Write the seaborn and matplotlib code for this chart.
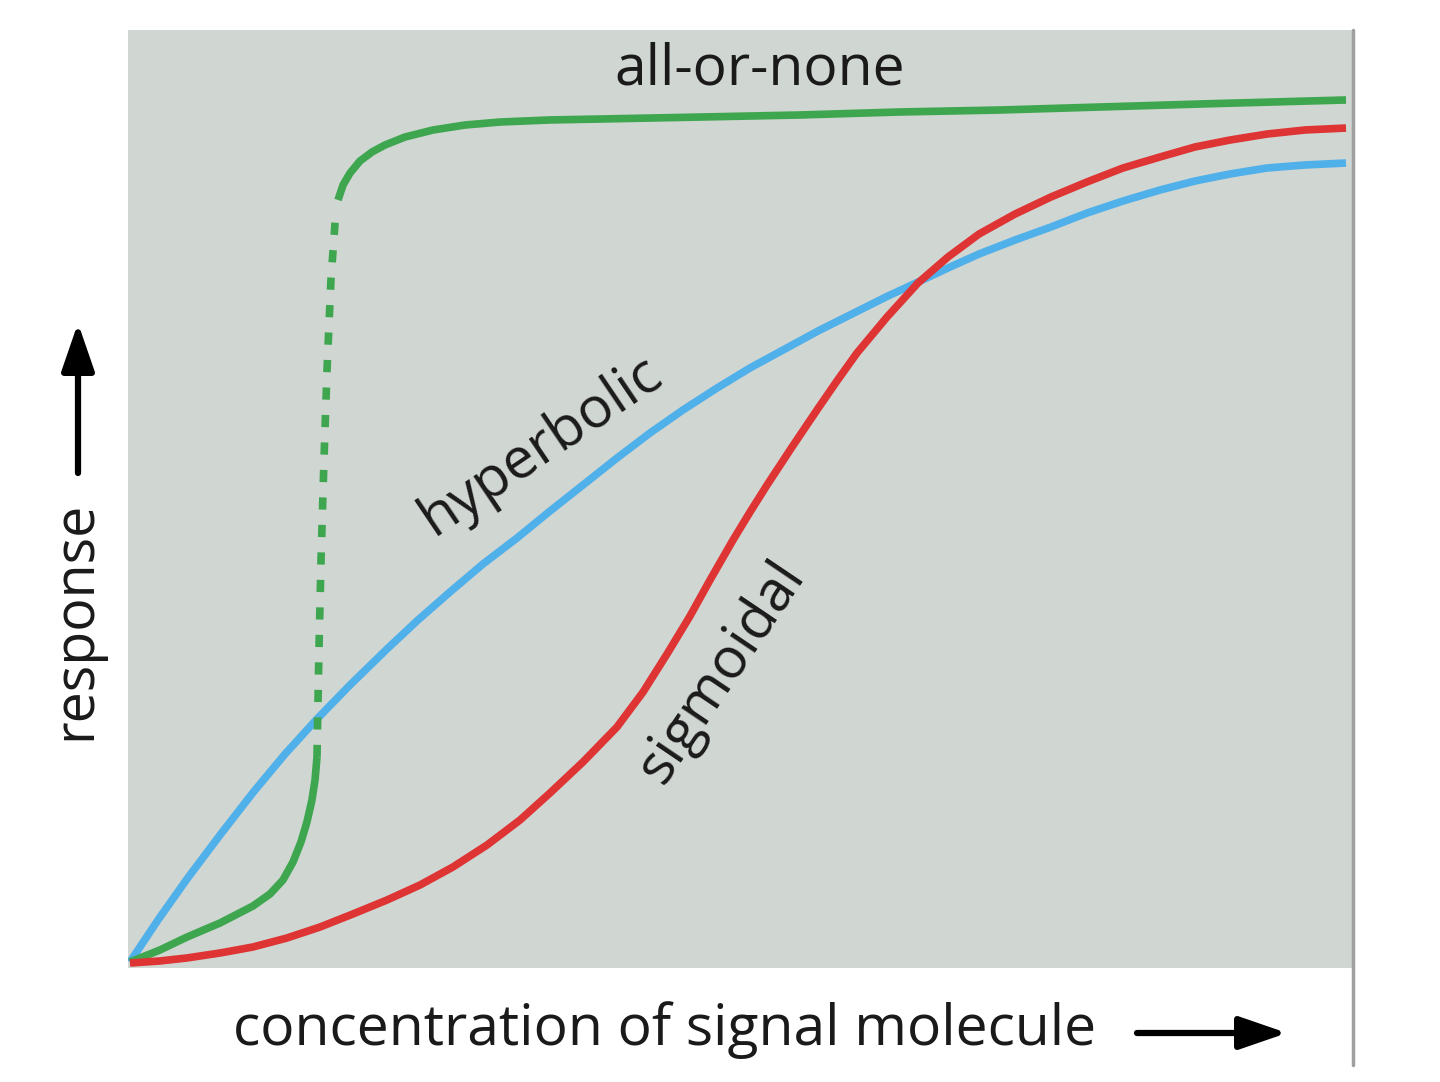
import matplotlib
matplotlib.use("Agg")
import matplotlib.pyplot as plt
import seaborn as sns
from matplotlib.lines import Line2D

# response curves (x and y on a 0-100 scale)
hyper_x = [0.16, 2.45, 4.82, 7.52, 10.21, 12.83, 15.44, 18.14, 21.16, 23.69, 26.31, 29.00, 31.78, 34.48,
           37.17, 39.95, 42.65, 45.34, 48.12, 50.82, 53.51, 56.37, 59.31, 61.93, 64.54, 67.16, 69.53,
           72.47, 75.41, 78.35, 81.29, 84.31, 87.17, 90.03, 93.06, 96.16, 99.51]
hyper_y = [0.64, 5.12, 9.49, 14.18, 18.70, 22.81, 26.55, 30.17, 34.01, 37.10, 40.09, 43.07, 45.84, 48.72,
           51.49, 54.37, 57.04, 59.49, 61.83, 63.97, 65.88, 67.91, 69.83, 71.54, 73.13, 74.73, 76.12,
           77.61, 79.00, 80.49, 81.77, 82.94, 83.90, 84.65, 85.29, 85.61, 85.82]

# all-or-none: low part, dashed jump, saturated part
allnone_low_x = [0.16, 2.61, 4.82, 7.52, 10.21, 11.60, 12.66, 13.48, 14.13, 14.62, 15.03, 15.28, 15.44]
allnone_low_y = [0.64, 1.92, 3.30, 4.80, 6.61, 7.89, 9.38, 11.30, 13.43, 15.57, 17.91, 20.04, 22.49]
allnone_jump_x = [15.44, 15.60, 15.77, 16.01, 16.26, 16.58, 16.99]
allnone_jump_y = [22.49, 33.90, 43.50, 54.16, 63.75, 73.35, 80.81]
allnone_high_x = [17.16, 17.57, 18.14, 18.95, 19.93, 21.00, 22.63, 24.92, 27.53, 30.39, 34.48, 38.56,
                  46.73, 54.90, 63.07, 71.24, 79.41, 87.58, 99.51]
allnone_high_y = [81.88, 83.48, 84.75, 86.03, 86.99, 87.74, 88.59, 89.34, 89.87, 90.19, 90.41, 90.51,
                  90.72, 90.94, 91.26, 91.47, 91.79, 92.11, 92.54]

sigm_x = [0.16, 2.61, 4.82, 7.52, 10.21, 12.99, 15.69, 18.38, 21.16, 23.86, 26.55, 29.33, 32.03, 34.48,
          37.17, 39.95, 42.08, 44.04, 45.92, 47.55, 49.43, 50.82, 52.21, 54.25, 56.29, 57.92, 59.56,
          62.01, 64.54, 66.99, 69.53, 72.47, 75.41, 78.35, 81.29, 84.31, 87.17, 90.03, 93.06, 96.16, 99.51]
sigm_y = [0.53, 0.75, 1.07, 1.60, 2.24, 3.20, 4.37, 5.76, 7.25, 8.85, 10.77, 13.11, 15.78, 18.66,
          21.96, 25.69, 29.42, 33.48, 37.53, 41.36, 45.63, 48.61, 51.49, 55.54, 59.49, 62.58, 65.57,
          69.40, 73.03, 75.80, 78.25, 80.38, 82.20, 83.80, 85.29, 86.46, 87.53, 88.27, 88.91, 89.34, 89.55]

green = "#3ea64f"
blue = "#4fb0ea"
red = "#de3434"

sns.set_theme(style="white")
plt.rcParams['font.family'] = ['Open Sans', 'DejaVu Sans']

fig = plt.figure(figsize=(14.4, 10.82), dpi=100)
ax = fig.add_axes([128/1440, 1-968/1082, 1224/1440, 938/1082])
ax.set_facecolor("#d0d6d2")

#drawing the three curves
line_kw = dict(lw=5.5, sort=False, estimator=None, solid_capstyle='butt', solid_joinstyle='round')
sns.lineplot(x=hyper_x, y=hyper_y, ax=ax, color=blue, **line_kw)
sns.lineplot(x=allnone_low_x, y=allnone_low_y, ax=ax, color=green, **line_kw)
sns.lineplot(x=allnone_jump_x, y=allnone_jump_y, ax=ax, color=green, lw=5.5, sort=False, estimator=None,
             linestyle=(0, (1.6, 2.0)))
sns.lineplot(x=allnone_high_x, y=allnone_high_y, ax=ax, color=green, **line_kw)
sns.lineplot(x=sigm_x, y=sigm_y, ax=ax, color=red, **line_kw)

ax.set_xlim(0, 100)
ax.set_ylim(0, 100)
ax.set_xticks([])
ax.set_yticks([])
for s in ax.spines.values():
    s.set_visible(False)

#curve labels
ax.text(51.6, 95.7, "all-or-none", fontsize=41, ha='center', va='center', color='#1a1a1a')
ax.text(33.7, 55.6, "hyperbolic", fontsize=41, ha='center', va='center', rotation=34, color='#1a1a1a')
ax.text(48.5, 31.5, "sigmoidal", fontsize=41, ha='center', va='center', rotation=56, color='#1a1a1a')

#axis labels with arrows
fig.text(665/1440, 1-1030/1082, "concentration of signal molecule", fontsize=41, ha='center', va='center', color='#1a1a1a')
fig.text(76/1440, 1-620/1082, "response", fontsize=40, ha='center', va='center', rotation=90, color='#1a1a1a')

arrow = dict(arrowstyle='-|>,head_length=1.45,head_width=0.5', lw=4.5, color='black', mutation_scale=20, shrinkA=0, shrinkB=0)
ax.annotate("", xy=(1287/1440, 1-1033/1082), xytext=(1137/1440, 1-1033/1082),
            xycoords='figure fraction', textcoords='figure fraction', arrowprops=arrow)
ax.annotate("", xy=(78/1440, 1-323/1082), xytext=(78/1440, 1-473/1082),
            xycoords='figure fraction', textcoords='figure fraction', arrowprops=arrow)

#grey rule on the right
fig.add_artist(Line2D([1353/1440, 1353/1440], [1-30/1082, 1-1065/1082], color='#a0a0a0', lw=2.5))

fig.savefig("out.png", dpi=100)
